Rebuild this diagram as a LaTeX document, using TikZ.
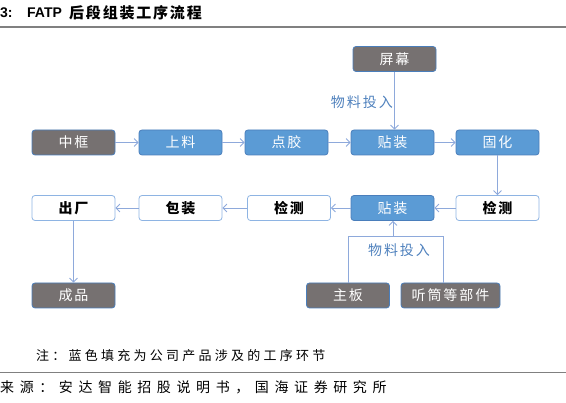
\documentclass[tikz,border=0pt]{standalone}
\usepackage{fontspec}
\setmainfont{Liberation Sans}
\newfontfamily\cjk{Noto Sans CJK SC}
\newfontfamily\cjkn[LetterSpace=14]{Noto Sans CJK SC}
\newfontfamily\cjknote[LetterSpace=25]{Noto Sans CJK SC}
\newfontfamily\cjksrc[LetterSpace=40]{Noto Sans CJK SC}
\newfontfamily\cjktitle[LetterSpace=12]{Noto Sans CJK SC}
\usetikzlibrary{arrows.meta}
\definecolor{bluefill}{HTML}{5B9BD5}
\definecolor{blueedge}{HTML}{4A7EBB}
\definecolor{grayfill}{HTML}{767171}
\definecolor{lightedge}{HTML}{8EB4E3}
\definecolor{arrowc}{HTML}{8EA9DB}
\definecolor{labelc}{HTML}{4F81BD}
\tikzset{
  base/.style={rounded corners=3pt, minimum width=83pt, minimum height=25pt, inner sep=0pt, font=\cjkn\fontsize{14}{16}\selectfont},
  bluebox/.style={base, fill=bluefill, draw=blueedge, line width=0.8pt, text=white},
  graybox/.style={base, fill=grayfill, draw=blueedge, line width=0.8pt, text=white},
  whitebox/.style={base, fill=white, draw=lightedge, line width=0.8pt, text=black, font=\cjkn\bfseries\fontsize{14}{16}\selectfont},
  conn/.style={draw=arrowc, line width=0.8pt, -{Straight Barb[length=4pt,width=8pt]}},
  plain/.style={draw=arrowc, line width=0.8pt},
  lbl/.style={font=\cjkn\fontsize{14}{16}\selectfont, text=labelc, inner sep=1pt}
}
\begin{document}
\begin{tikzpicture}[x=1pt,y=-1pt]
\useasboundingbox (0,0) rectangle (566,403);
% title
\node[anchor=west, inner sep=0pt, font=\bfseries\fontsize{14}{16}\selectfont] (t1) at (0,13) {3:};
\node[anchor=west, inner sep=0pt, font=\bfseries\fontsize{14}{16}\selectfont] (t2) at (27,13) {FATP};
\node[anchor=west, inner sep=0pt, font=\cjktitle\bfseries\fontsize{15}{17}\selectfont] (t3) at (69,13) {后段组装工序流程};
\draw[gray, line width=1.2pt] (0,27) -- (566,27);
% row 1
\node[graybox] (zk) at (73.5,142.5) {中框};
\node[bluebox] (sl) at (180.5,142.5) {上料};
\node[bluebox] (dj) at (286.5,142.5) {点胶};
\node[bluebox] (tz1) at (392.5,142.5) {贴装};
\node[bluebox] (gh) at (497.5,142.5) {固化};
\node[graybox] (pm) at (394.5,59) {屏幕};
% row 2
\node[whitebox] (cc) at (73.5,208) {出厂};
\node[whitebox] (bz) at (180.5,208) {包装};
\node[whitebox] (jc1) at (289,208) {检测};
\node[bluebox] (tz2) at (392.5,208) {贴装};
\node[whitebox] (jc2) at (497.5,208) {检测};
% bottom
\node[graybox] (cp) at (73.5,295.5) {成品};
\node[graybox] (zb) at (348,295.5) {主板};
\node[graybox, minimum width=99pt] (tt) at (450.5,295.5) {听筒等部件};
% connectors
\draw[conn] (zk) -- (sl);
\draw[conn] (sl) -- (dj);
\draw[conn] (dj) -- (tz1);
\draw[conn] (tz1) -- (gh);
\draw[conn] (pm.south) -- (tz1.north -| pm.south);
\node[lbl, anchor=east] (l1) at (394,102) {物料投入};
\draw[conn] (gh) -- (jc2);
\draw[conn] (jc2) -- (tz2);
\draw[conn] (tz2) -- (jc1);
\draw[conn] (jc1) -- (bz);
\draw[conn] (bz) -- (cc);
\draw[conn] (cc) -- (cp);
\coordinate (ja) at (348,236);
\coordinate (jb) at (443,236);
\coordinate (jm) at (393,236);
\draw[plain] (zb.north) -- (ja) -- (jb) -- (jb |- tt.north);
\draw[conn] (jm) -- (tz2.south -| jm);
\node[lbl] (l2) at (399,250) {物料投入};
% notes
\node[anchor=west, inner sep=0pt, font=\cjknote\fontsize{13}{15}\selectfont] (note) at (36,356) {注：蓝色填充为公司产品涉及的工序环节};
\draw[gray, line width=1pt] (0,373) -- (566,373);
\node[anchor=west, inner sep=0pt, font=\cjksrc\fontsize{14}{16}\selectfont] (src) at (0,387) {来源：安达智能招股说明书，国海证券研究所};
\end{tikzpicture}
\end{document}
